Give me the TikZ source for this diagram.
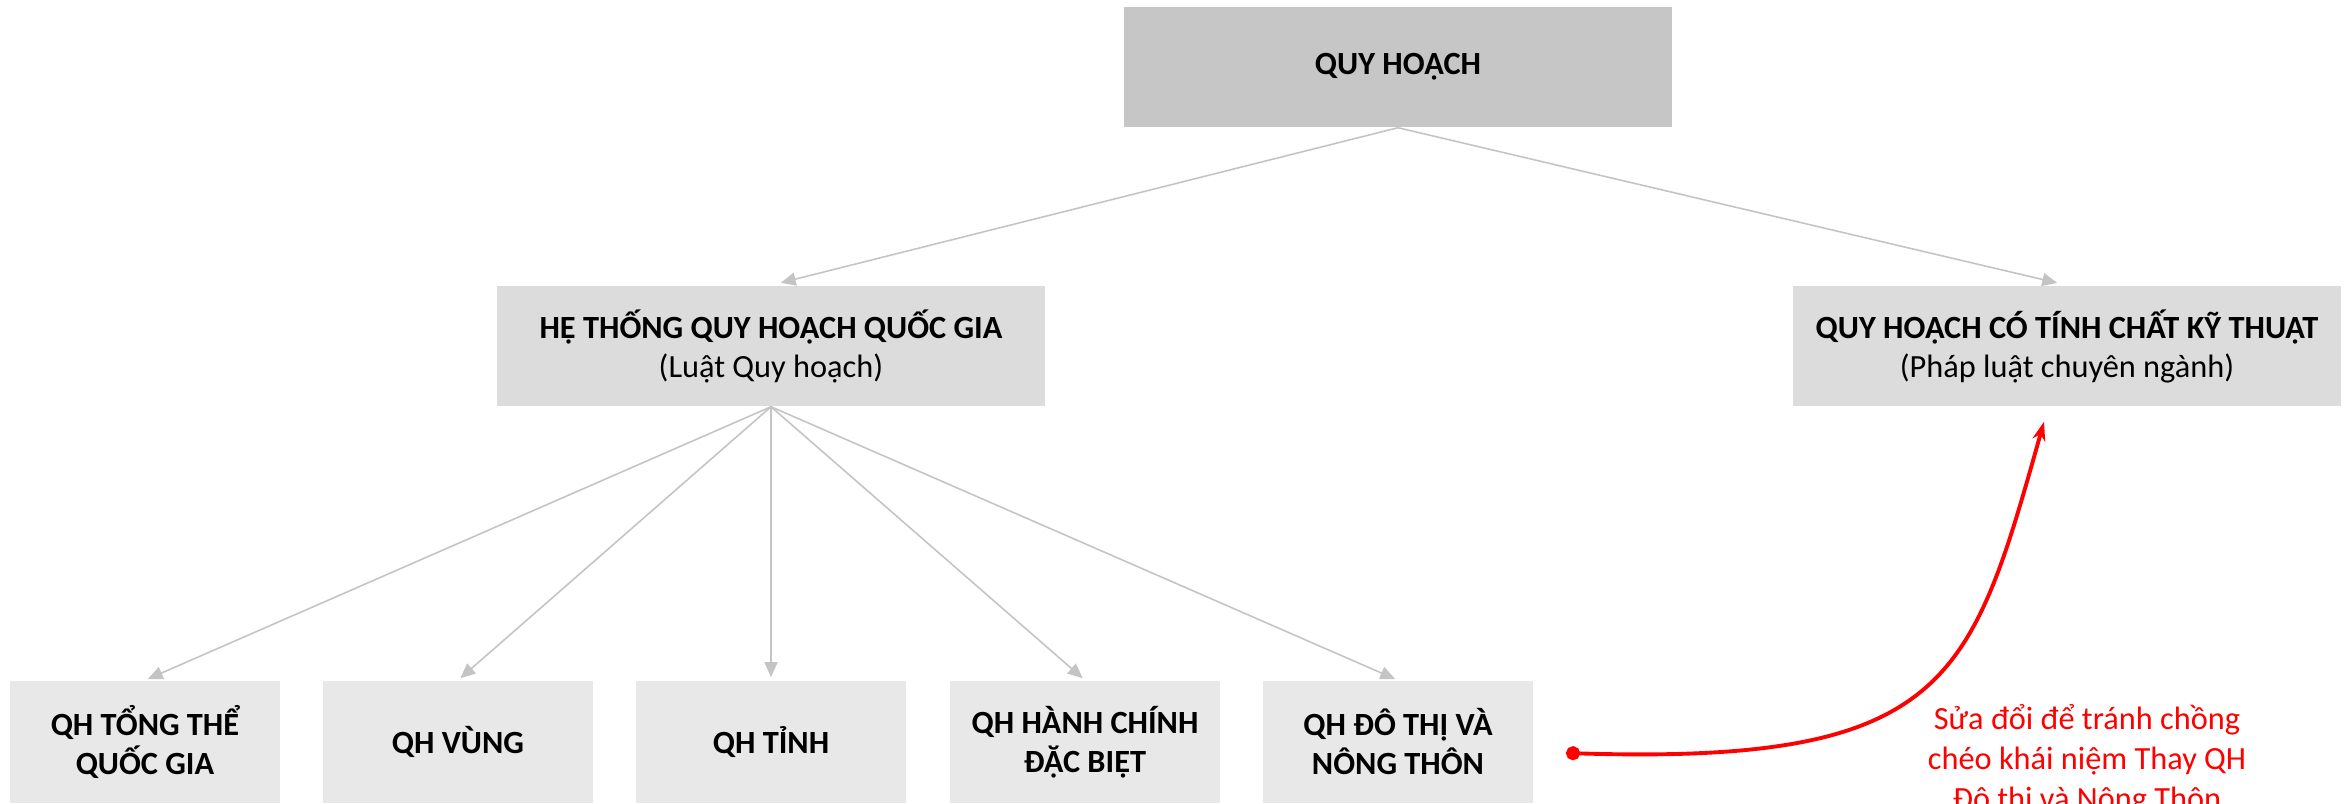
\documentclass[tikz,border=0pt]{standalone}
\usepackage{fontspec}
\setmainfont{Carlito}
\usetikzlibrary{arrows.meta}
\definecolor{boxtop}{HTML}{C6C6C6}
\definecolor{boxmid}{HTML}{DCDCDC}
\definecolor{boxlow}{HTML}{E8E8E8}
\definecolor{linkgray}{HTML}{C4C4C4}
\definecolor{notered}{HTML}{FF0000}
\tikzset{
  qhbox/.style={minimum width=5.47cm, minimum height=1.2cm, inner sep=0pt, align=center,
    font=\fontsize{9.2}{11.1}\selectfont},
  lowbox/.style={qhbox, minimum width=2.7cm, minimum height=1.22cm, fill=boxlow,
    font=\fontsize{9.2}{11.1}\selectfont\bfseries},
  link/.style={draw=linkgray, line width=0.45pt, -{Triangle[length=0.15cm,width=0.13cm]}},
  note/.style={text=notered, align=center, font=\fontsize{9.2}{11.4}\selectfont}
}
\begin{document}
\begin{tikzpicture}[x=0.01cm, y=-0.01cm, line join=round, line cap=round]
\useasboundingbox (0,0) rectangle (2346,804);
% cap
\node[qhbox, fill=boxtop, font=\fontsize{9.2}{11.1}\selectfont\bfseries] (quyhoach) at (1398,67) {QUY HOẠCH};
\node[qhbox, fill=boxmid] (hethong) at (771,346) {\textbf{HỆ THỐNG QUY HOẠCH QUỐC GIA}\\(Luật Quy hoạch)};
\node[qhbox, fill=boxmid] (kythuat) at (2067,346) {\textbf{QUY HOẠCH CÓ TÍNH CHẤT KỸ THUẬT}\\(Pháp luật chuyên ngành)};
% cap duoi
\node[lowbox] (tongthe) at (145,742) {QH TỔNG THỂ\\QUỐC GIA};
\node[lowbox] (vung) at (458,742) {QH VÙNG};
\node[lowbox] (tinh) at (771,742) {QH TỈNH};
\node[lowbox] (hanhchinh) at (1085,742) {QH HÀNH CHÍNH\\ĐẶC BIỆT};
\node[lowbox] (dothi) at (1398,742) {QH ĐÔ THỊ VÀ\\NÔNG THÔN};
\draw[link, shorten >=0.1cm] (quyhoach.south) -- (hethong.north);
\draw[link, shorten >=0.1cm] (quyhoach.south) -- (kythuat.north);
\foreach \b in {tongthe,vung,tinh,hanhchinh,dothi}
  \draw[link, shorten >=0.03cm] (hethong.south) -- (\b.north);
% ghi chu
\coordinate (notestart) at (1566,753);
\coordinate (noteend) at ([xshift=-0.23cm,yshift=-0.15cm]kythuat.south);
\draw[notered, line width=1.1pt, {Circle[length=0.14cm]}-{Stealth[length=0.19cm,width=0.13cm]}]
  (notestart) .. controls (1950,765) and (1971,680) .. (noteend);
\node[note] (ghichu) at (2087,760) {Sửa đổi để tránh chồng\\chéo khái niệm Thay QH\\Đô thị và Nông Thôn};
\end{tikzpicture}
\end{document}
